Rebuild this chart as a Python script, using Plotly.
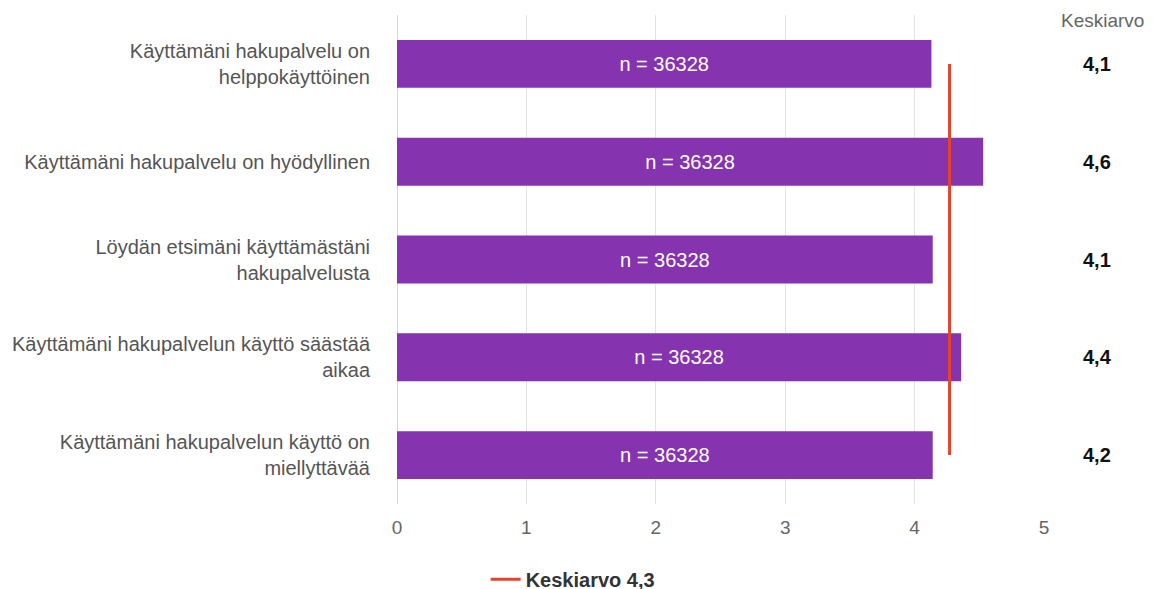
import plotly.graph_objects as go

categories = [
    "Käyttämäni hakupalvelu on<br>helppokäyttöinen",
    "Käyttämäni hakupalvelu on hyödyllinen",
    "Löydän etsimäni käyttämästäni<br>hakupalvelusta",
    "Käyttämäni hakupalvelun käyttö säästää<br>aikaa",
    "Käyttämäni hakupalvelun käyttö on<br>miellyttävää",
]
means = [4.13, 4.53, 4.14, 4.36, 4.14]
mean_labels = ["4,1", "4,6", "4,1", "4,4", "4,2"]
n_values = [36328, 36328, 36328, 36328, 36328]
overall_mean = 4.27
overall_label = "Keskiarvo 4,3"
x_ticks = [0, 1, 2, 3, 4, 5]

FONT = "Liberation Sans, Arial, Helvetica, sans-serif"
BAR = "#8533AF"
RED = "#E5432B"

fig = go.Figure()
fig.add_trace(go.Bar(
    y=categories, x=means, orientation="h",
    marker=dict(color=BAR, line=dict(width=0)),
    width=0.49,
    text=[f"n = {n}" for n in n_values],
    textposition="inside", insidetextanchor="middle",
    textfont=dict(color="white", size=20, family=FONT),
    showlegend=False, hoverinfo="skip",
))
fig.add_trace(go.Scatter(
    x=[overall_mean, overall_mean], y=[categories[0], categories[-1]],
    mode="lines", line=dict(color=RED, width=3),
    name="<b>" + overall_label + "</b>", showlegend=True,
))

for c, lab in zip(categories, mean_labels):
    fig.add_annotation(x=1.082, xref="paper", y=c, yref="y", text="<b>" + lab + "</b>",
                       showarrow=False, font=dict(size=20, color="#111", family=FONT),
                       xanchor="center", yanchor="middle")
fig.add_annotation(x=1.091, xref="paper", y=0.988, yref="paper", text="Keskiarvo",
                   showarrow=False, font=dict(size=19, color="#666", family=FONT),
                   xanchor="center", yanchor="middle")

fig.update_layout(
    width=1153, height=589,
    margin=dict(l=389, r=117, t=7, b=93),
    paper_bgcolor="white", plot_bgcolor="white",
    font=dict(family=FONT, size=20, color="#555"),
    bargap=0.51,
    legend=dict(orientation="h", x=0.137, xanchor="left", xref="paper",
                y=0.03, yanchor="middle", yref="container",
                font=dict(size=20, color="#333", family=FONT)),
    xaxis=dict(range=[0, 5], tickvals=x_ticks, showgrid=True, gridcolor="#e3e3e3",
               gridwidth=1, zeroline=True, zerolinecolor="#d3d6ea", zerolinewidth=1,
               showline=False, ticks="", tickfont=dict(size=19, color="#666"),
               ticklabelstandoff=10, automargin=False, fixedrange=True),
    yaxis=dict(autorange="reversed", showgrid=False, ticks="", ticklabelstandoff=26,
               tickfont=dict(size=20, color="#555"), automargin=False, fixedrange=True),
)

fig.write_html("out.html")
